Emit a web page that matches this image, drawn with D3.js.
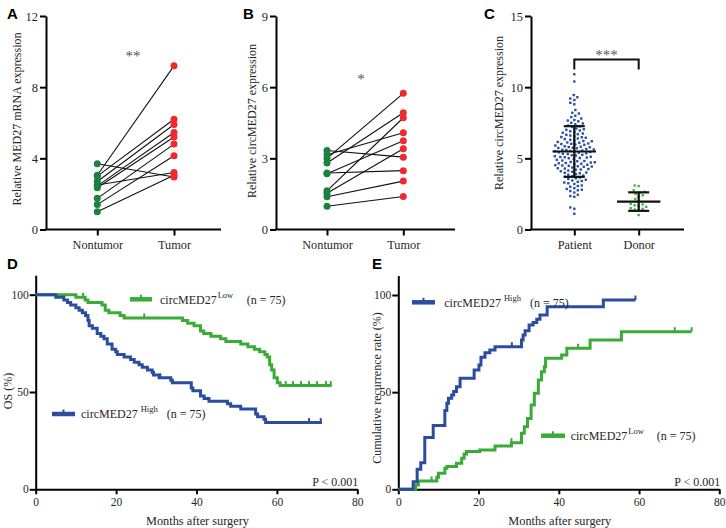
<!DOCTYPE html>
<html><head><meta charset="utf-8">
<script src="https://cdn.jsdelivr.net/npm/d3@7"></script>
<style>body{margin:0;background:#fff}svg{display:block}text{font-family:'Liberation Serif','Times New Roman',serif}</style>
</head><body><svg id="c" width="726" height="528"></svg>
<script>
// ---------- DATA ----------
const pairCategories = ["Nontumor", "Tumor"];
const mrnaNontumor = [3.7, 3.05, 3.0, 2.7, 2.5, 2.45, 2.35, 1.75, 1.4, 1.0];
const mrnaTumor    = [2.95, 9.2, 6.2, 5.9, 3.2, 5.45, 5.2, 4.8, 4.15, 3.05];
const circNontumor = [3.33, 3.15, 3.0, 2.8, 2.38, 2.35, 1.63, 1.53, 1.38, 0.98];
const circTumor    = [3.05, 4.08, 5.74, 4.92, 2.48, 3.74, 4.71, 3.40, 2.04, 1.39];
const ticksA = [0, 4, 8, 12];
const ticksB = [0, 3, 6, 9];

const serumCategories = ["Patient", "Donor"];
const patientValues = [1.1,1.45,1.55,2.3,2.35,2.45,2.6,2.7,2.75,2.8,2.85,2.9,
 3.0,3.05,3.1,3.2,3.25,3.3,3.35,3.4,3.45,
 3.5,3.55,3.6,3.65,3.7,3.75,3.8,3.85,3.9,3.95,3.98,
 4.0,4.05,4.1,4.15,4.2,4.22,4.25,4.28,4.3,4.35,4.4,4.42,4.45,4.48,
 4.5,4.52,4.55,4.6,4.62,4.65,4.68,4.7,4.72,4.75,4.8,4.82,4.85,4.9,4.95,
 5.0,5.02,5.05,5.08,5.1,5.12,5.15,5.2,5.22,5.25,5.3,5.32,5.35,5.4,5.42,5.45,5.48,
 5.5,5.52,5.55,5.58,5.6,5.62,5.65,5.7,5.72,5.75,5.78,5.8,5.82,5.85,5.9,5.95,5.98,
 6.0,6.02,6.05,6.1,6.12,6.15,6.2,6.22,6.25,6.3,6.35,6.4,6.45,6.48,
 6.5,6.55,6.6,6.65,6.7,6.75,6.8,6.85,6.9,6.95,
 7.0,7.05,7.1,7.2,7.25,7.3,7.4,7.45,
 7.5,7.6,7.65,7.7,7.8,7.9,
 8.0,8.15,8.2,8.4,8.8,8.9,9.1,9.2,9.3,9.45,10.4,10.9];
const donorValues = [3.1,3.05,2.75,2.65,2.6,2.5,2.4,2.3,2.15,2.0,1.8,1.75,1.7,1.65,1.6,1.5,1.45,1.4,1.35,1.02];
const serumMean = [5.48, 1.96];
const serumSD = [1.78, 0.65];
const ticksC = [0, 5, 10, 15];

const kmTicksX = [0, 20, 40, 60, 80];
const kmTicksY = [0, 50, 100];
// Overall survival (%), [month, percent] step points
const osLowSteps = [[0,100],[10,98.7],[12.3,97.3],[13,96],[16.5,94.7],[17.3,92],[18.2,90.7],[21,89.3],[22,88],
 [36.5,86.7],[37.8,85.3],[39.4,84],[41,81.3],[41.8,80],[43.6,78.7],[46,77.3],[47.3,76],[51,74.7],[52.8,73.3],
 [54.4,72],[55.7,70.7],[57,69.3],[57.6,68],[58.2,64],[58.7,61.3],[59.3,57.3],[60.1,54.7],[60.8,53.3],[73.6,53.3]];
const osLowCensor = [11.8, 27, 62.2, 64, 66, 68, 70, 72.2, 73.4];
const osHighSteps = [[0,100],[5,98.7],[7,97.3],[7.9,96],[8.7,94.7],[10,93.3],[10.8,92],[11.6,90.7],[12.4,89.3],
 [13,86.7],[13.3,84],[14.1,82.7],[15.3,80],[16.2,78.7],[17,77.3],[17.8,74.7],[19,72],[19.9,70.7],[20.3,69.3],
 [22,68],[23.6,66.7],[24.5,65.3],[25.7,64],[26.5,62.7],[27.8,61.3],[29,60],[29.3,58.7],[30.7,57.3],[33.6,56],
 [34,54.7],[38.7,52],[39.1,50.7],[41,48],[41.9,46.7],[43.1,45.3],[47.7,44],[48.5,42.7],[51,41.3],[54.7,38.7],
 [55.2,37.3],[56.8,36],[57.2,34.3],[71.2,34.3]];
const osHighCensor = [31, 68, 70.9];
// Cumulative recurrence (%)
const recHighSteps = [[0,0],[3.7,3.9],[4.7,10.3],[5.6,13.7],[6.6,26.6],[8.7,32.9],[11.6,40.5],[12.1,44.3],
 [12.5,46.8],[13.3,48.5],[13.8,50.3],[14.5,52.8],[15.4,57.1],[18.9,61.4],[20.1,64],[20.6,67.9],[21.6,70.3],
 [22.8,71.7],[24.1,73.4],[30.7,76.8],[31.1,79.4],[31.6,81.6],[32.6,84.6],[33.6,85.8],[34.5,87.5],[35.3,89.7],
 [37.1,94],[51.1,97.4],[59.1,97.4]];
const recHighCensor = [28.3, 59.1];
const recLowSteps = [[0,0],[4.3,2.2],[5,4.3],[9.6,6.2],[10,8.2],[11.6,10.8],[12.1,11.7],[14.5,13.4],[15.8,16],
 [16.4,18.2],[17,19.4],[20.3,20.2],[24.1,22.3],[28.2,24],[30.7,28.8],[31.4,32.2],[32.2,36.5],[33.1,43.4],
 [33.9,49.4],[34.9,56.3],[35.7,60.5],[36.4,63.1],[36.7,67.4],[40.7,69.1],[42,72.6],[47.8,76.8],[55.6,81.1],[73.1,81.1]];
const recLowCensor = [8.3, 28.2, 44.8, 68.9, 73.1];

// ---------- STYLE ----------
const SERIF = "'Liberation Serif','Times New Roman',serif";
const SANS = "'Liberation Sans',Arial,sans-serif";
const TXT = "#262626";
const svg = d3.select("#c");

function txt(sel, fs){ return sel.style("font-family",SERIF).attr("font-size",fs).attr("fill",TXT); }
function panelLetter(t, x, y){
  svg.append("text").attr("x",x).attr("y",y).text(t)
    .style("font-family",SANS).attr("font-weight","bold").attr("font-size",15).attr("fill","#000");
}
function styleAxis(g, fs){
  g.attr("font-family",null);
  g.selectAll("path.domain").attr("stroke","#000").attr("stroke-width",2);
  g.selectAll(".tick line").attr("stroke","#000").attr("stroke-width",2);
  txt(g.selectAll(".tick text"), fs);
}
function yLabel(t, x, y, fs){
  txt(svg.append("text").attr("transform",`translate(${x},${y}) rotate(-90)`).attr("text-anchor","middle"), fs).text(t);
}

// ---------- PAIRED PANELS ----------
function pairedPanel(o){
  const y = d3.scaleLinear().domain([0, o.ticks[o.ticks.length-1]]).range([o.y0, o.y1]);
  const x = d3.scalePoint().domain(pairCategories).range([o.c0, o.c1]);
  const gy = svg.append("g").attr("transform",`translate(${o.ax},0)`)
    .call(d3.axisLeft(y).tickValues(o.ticks).tickSize(6).tickSizeOuter(0).tickPadding(2));
  styleAxis(gy, 12.5);
  const gx = svg.append("g").attr("transform",`translate(0,${o.y0})`)
    .call(d3.axisBottom(x).tickSize(6).tickSizeOuter(0).tickPadding(5));
  gx.select("path.domain").remove();
  styleAxis(gx, 12.3);
  svg.append("line").attr("x1",o.ax-1).attr("x2",o.axEnd).attr("y1",o.y0).attr("y2",o.y0)
    .attr("stroke","#000").attr("stroke-width",2);
  const pairs = o.a.map((v,i)=>[v,o.b[i]]);
  svg.append("g").selectAll("line").data(pairs).join("line")
    .attr("x1",x(pairCategories[0])).attr("x2",x(pairCategories[1]))
    .attr("y1",d=>y(d[0])).attr("y2",d=>y(d[1])).attr("stroke","#111").attr("stroke-width",1.1);
  svg.append("g").selectAll("circle").data(o.a).join("circle")
    .attr("cx",x(pairCategories[0])).attr("cy",d=>y(d)).attr("r",3.5).attr("fill","#1b8040");
  svg.append("g").selectAll("circle").data(o.b).join("circle")
    .attr("cx",x(pairCategories[1])).attr("cy",d=>y(d)).attr("r",3.5).attr("fill","#ee2a2f");
  svg.append("text").attr("x",o.starX).attr("y",o.starY).attr("text-anchor","middle")
    .style("font-family",SERIF).attr("font-size",15).attr("fill","#555").text(o.star);
  yLabel(o.label, o.labX, o.labY, 12);
}
pairedPanel({a:mrnaNontumor,b:mrnaTumor,ticks:ticksA,ax:46,axEnd:221,y0:229.5,y1:16,c0:97.3,c1:174,
  star:"**",starX:133,starY:61,label:"Relative MED27 mRNA expression",labX:21,labY:119});
pairedPanel({a:circNontumor,b:circTumor,ticks:ticksB,ax:276,axEnd:455,y0:229.5,y1:16,c0:327,c1:403.3,
  star:"*",starX:361,starY:84,label:"Relative circMED27 expression",labX:256,labY:121});
panelLetter("A",7,19); panelLetter("B",243,19); panelLetter("C",484,19);

// ---------- PANEL C ----------
(function(){
  const y = d3.scaleLinear().domain([0,15]).range([229.5,16]);
  const x = d3.scalePoint().domain(serumCategories).range([574.3,638.7]);
  const gy = svg.append("g").attr("transform","translate(531,0)")
    .call(d3.axisLeft(y).tickValues(ticksC).tickSize(6).tickSizeOuter(0).tickPadding(2));
  styleAxis(gy, 12.5);
  const gx = svg.append("g").attr("transform","translate(0,229.5)")
    .call(d3.axisBottom(x).tickSize(6).tickSizeOuter(0).tickPadding(5));
  gx.select("path.domain").remove();
  styleAxis(gx, 12.3);
  svg.append("line").attr("x1",530).attr("x2",684).attr("y1",229.5).attr("y2",229.5)
    .attr("stroke","#000").attr("stroke-width",2);
  function swarm(values, cx, md){
    const placed=[];
    values.slice().sort((a,b)=>a-b).forEach(v=>{
      const py=y(v); let px=cx;
      for(let k=0;k<400;k++){
        const off=(k%2===0?1:-1)*Math.ceil(k/2)*0.5;
        const cand=cx+off;
        if(placed.every(p=>(p.x-cand)**2+(p.y-py)**2>=md*md)){px=cand;break;}
      }
      placed.push({x:px,y:py});
    });
    return placed;
  }
  const groups = [[patientValues,"#2e54a6"],[donorValues,"#46b849"]];
  groups.forEach((g,i)=>{
    const pts = swarm(g[0], x(serumCategories[i]), 3.9);
    svg.append("g").selectAll("rect").data(pts).join("rect")
      .attr("x",d=>d.x-1.25).attr("y",d=>d.y-1.25).attr("width",2.5).attr("height",2.5).attr("rx",0.6)
      .attr("fill",g[1]);
  });
  serumCategories.forEach((c,i)=>{
    const cx=x(c), m=serumMean[i], s=serumSD[i];
    const g=svg.append("g").attr("stroke","#111").attr("stroke-width",2.2);
    g.append("line").attr("x1",cx-21.7).attr("x2",cx+21.7).attr("y1",y(m)).attr("y2",y(m));
    g.append("line").attr("x1",cx).attr("x2",cx).attr("y1",y(m+s)).attr("y2",y(m-s));
    g.append("line").attr("x1",cx-10.5).attr("x2",cx+10.5).attr("y1",y(m+s)).attr("y2",y(m+s));
    g.append("line").attr("x1",cx-10.5).attr("x2",cx+10.5).attr("y1",y(m-s)).attr("y2",y(m-s));
  });
  const bx0=x(serumCategories[0]), bx1=x(serumCategories[1]);
  svg.append("path").attr("d",`M${bx0},69.5V59.5H${bx1}V69.5`).attr("fill","none")
    .attr("stroke","#111").attr("stroke-width",2);
  svg.append("text").attr("x",(bx0+bx1)/2).attr("y",60).attr("text-anchor","middle")
    .style("font-family",SERIF).attr("font-size",15).attr("fill","#555").text("***");
  yLabel("Relative circMED27 expression", 503, 113, 12);
})();

// ---------- KM PANELS ----------
const BLUE="#2b4d9f", GREEN="#3bab37";
function kmPanel(o){
  const x = d3.scaleLinear().domain([0,80]).range([o.x0,o.x1]);
  const y = d3.scaleLinear().domain([0,110]).range([489.3, 489.3-110*o.py]);
  const gx = svg.append("g").attr("transform","translate(0,489.3)")
    .call(d3.axisBottom(x).tickValues(kmTicksX).tickSize(5).tickSizeOuter(0).tickPadding(4));
  styleAxis(gx, 11.5);
  const gy = svg.append("g").attr("transform",`translate(${o.x0},0)`)
    .call(d3.axisLeft(y).tickValues(kmTicksY).tickSize(6).tickSizeOuter(0).tickPadding(1));
  styleAxis(gy, 11.5);
  const line = d3.line().x(d=>x(d[0])).y(d=>y(d[1])).curve(d3.curveStepAfter);
  o.curves.forEach(c=>{
    svg.append("path").attr("d",line(c.steps)).attr("fill","none").attr("stroke",c.color)
      .attr("stroke-width",3).attr("stroke-linejoin","miter");
    const valAt = t=>{ let v=c.steps[0][1]; c.steps.forEach(s=>{ if(s[0]<=t) v=s[1]; }); return v; };
    svg.append("g").selectAll("line").data(c.censor).join("line")
      .attr("x1",d=>x(d)).attr("x2",d=>x(d)).attr("y1",d=>y(valAt(d))).attr("y2",d=>y(valAt(d))-4.5)
      .attr("stroke",c.color).attr("stroke-width",2);
    // legend
    const L=c.leg;
    svg.append("line").attr("x1",L.lx0).attr("x2",L.lx1).attr("y1",L.ly).attr("y2",L.ly)
      .attr("stroke",c.color).attr("stroke-width",4.5);
    svg.append("line").attr("x1",(L.lx0+L.lx1)/2).attr("x2",(L.lx0+L.lx1)/2).attr("y1",L.ly).attr("y2",L.ly-4.5)
      .attr("stroke",c.color).attr("stroke-width",2);
    const t = txt(svg.append("text").attr("x",L.tx).attr("y",L.ly+4.3), 12);
    t.append("tspan").text("circMED27");
    t.append("tspan").attr("dx",L.supDx).attr("dy",-6).attr("font-size",8.5).text(L.sup);
    txt(svg.append("text").attr("x",L.nx).attr("y",L.ly+4.3), 12).text("(n = 75)");
  });
  txt(svg.append("text").attr("x",o.x1+1).attr("y",486).attr("text-anchor","end"), 12).text("P < 0.001");
  txt(svg.append("text").attr("x",(o.x0+o.x1)/2+1).attr("y",525).attr("text-anchor","middle"), 12.3)
    .text("Months after surgery");
  yLabel(o.ylab, o.ylx, o.yly, 12);
}
kmPanel({x0:35.7,x1:357.3,py:1.946,ylab:"OS (%)",ylx:12,yly:391,
  curves:[
    {steps:osLowSteps,censor:osLowCensor,color:GREEN,leg:{lx0:130,lx1:152,ly:299.3,tx:160,sup:"Low",supDx:1,nx:246.7}},
    {steps:osHighSteps,censor:osHighCensor,color:BLUE,leg:{lx0:52,lx1:75,ly:414,tx:81,sup:"High",supDx:3,nx:166.7}}
  ]});
kmPanel({x0:398.3,x1:719.3,py:1.943,ylab:"Cumulative recurrence rate (%)",ylx:381,yly:388,
  curves:[
    {steps:recLowSteps,censor:recLowCensor,color:GREEN,leg:{lx0:541,lx1:565,ly:435.7,tx:570.7,sup:"Low",supDx:1,nx:656.7}},
    {steps:recHighSteps,censor:recHighCensor,color:BLUE,leg:{lx0:412,lx1:435,ly:302.3,tx:444.3,sup:"High",supDx:3,nx:530}}
  ]});
panelLetter("D",7,269); panelLetter("E",372,269);
</script></body></html>
